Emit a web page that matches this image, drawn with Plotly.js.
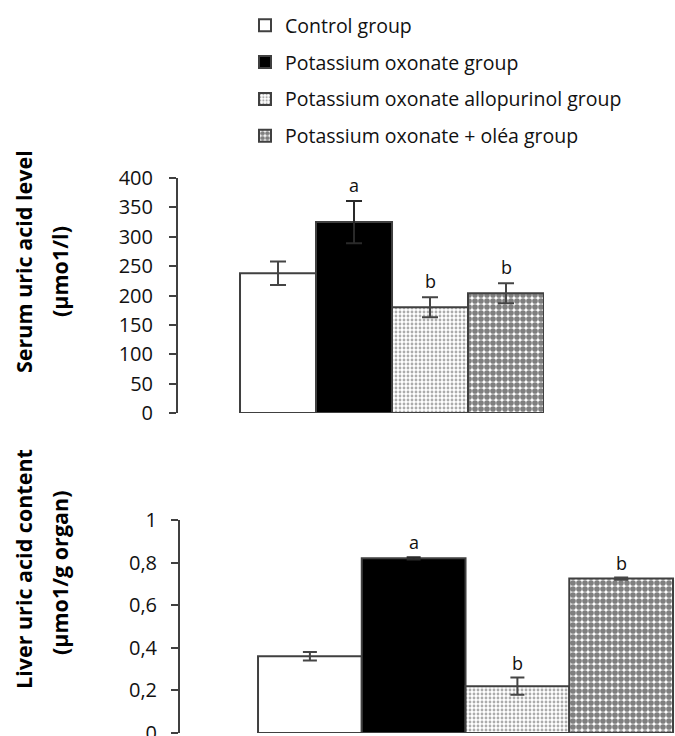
<!DOCTYPE html>
<html>
<head>
<meta charset="utf-8">
<script src="https://cdn.plot.ly/plotly-3.0.1.min.js"></script>
<style>html,body{margin:0;padding:0;background:#fff;}#chart{width:675px;height:736px;}</style>
</head>
<body>
<div id="chart"></div>
<script>
// ---- data ----
const groups = ["Control group", "Potassium oxonate group", "Potassium oxonate allopurinol group", "Potassium oxonate + oléa group"];
const serumValues = [238, 325, 180, 204];
const serumErrors = [20, 36, 17, 17];
const serumLetters = ["", "a", "b", "b"];
const liverValues = [0.36, 0.82, 0.22, 0.725];
const liverErrors = [0.02, 0.005, 0.04, 0.005];
const liverLetters = ["", "a", "b", "b"];
const serumTitle = ["Serum uric acid level", "(µmo1/l)"];
const liverTitle = ["Liver uric acid content", "(µmo1/g organ)"];

// ---- styles ----
const W = 675, H = 736;
const edge = "#404040";
const fills = [
  {color: "#ffffff"},
  {color: "#000000"},
  {color: "#ffffff", pattern: {shape: ".", size: 4, solidity: 0.4, fgcolor: "#5a5a5a", bgcolor: "#ffffff", fillmode: "overlay"}},
  {color: "#ffffff", pattern: {shape: ".", size: 6, solidity: 0.7, fgcolor: "#000000", bgcolor: "#ffffff", fillmode: "overlay"}}
];
const errColors = ["#454545", "#2a2a2a", "#454545", "#454545"];

const traces = [];
groups.forEach((g, i) => {
  traces.push({
    type: "bar", x: [i], y: [serumValues[i]], width: 1, name: g,
    legendgroup: "g" + i, xaxis: "x", yaxis: "y",
    marker: Object.assign({line: {color: edge, width: 2}}, fills[i]),
    error_y: {type: "data", array: [serumErrors[i]], visible: true, color: errColors[i], thickness: 2, width: 8},
    hoverinfo: "skip"
  });
});
groups.forEach((g, i) => {
  traces.push({
    type: "bar", x: [i], y: [liverValues[i]], width: 1, name: g, showlegend: false,
    legendgroup: "g" + i, xaxis: "x2", yaxis: "y2",
    marker: Object.assign({line: {color: edge, width: 2}}, fills[i]),
    error_y: {type: "data", array: [liverErrors[i]], visible: true, color: errColors[i], thickness: 2, width: 7},
    hoverinfo: "skip"
  });
});

const annotations = [];
const letterFont = {family: "Open Sans", size: 18, color: "#111"};
serumLetters.forEach((t, i) => {
  if (!t) return;
  annotations.push({xref: "x", yref: "y", x: i, y: serumValues[i] + serumErrors[i], text: t, showarrow: false,
    xanchor: "center", yanchor: "bottom", yshift: 2, font: letterFont});
});
liverLetters.forEach((t, i) => {
  if (!t) return;
  annotations.push({xref: "x2", yref: "y2", x: i, y: liverValues[i] + liverErrors[i], text: t, showarrow: false,
    xanchor: "center", yanchor: "bottom", yshift: 1, font: letterFont});
});
const titleFont = {family: "Open Sans", size: 21.5, color: "#000", weight: "bold"};
function vtitle(txt, xpx, ypx) {
  return {xref: "paper", yref: "paper", x: xpx / W, y: 1 - ypx / H, xanchor: "center", yanchor: "middle",
    text: "<b>" + txt + "</b>", textangle: -90, showarrow: false, font: titleFont};
}
annotations.push(vtitle(serumTitle[0], 23, 262));
annotations.push(vtitle(serumTitle[1], 59, 272));
annotations.push(vtitle(liverTitle[0], 23, 569));
annotations.push(vtitle(liverTitle[1], 59, 573));

const yaxisBase = {
  showgrid: false, zeroline: false, showline: true, linecolor: edge, linewidth: 2,
  ticks: "outside", ticklen: 7, tickwidth: 2, tickcolor: edge, ticklabeloverflow: "allow",
  tickfont: {family: "Open Sans", size: 20, color: "#111"}, fixedrange: true
};
const xaxisBase = {showgrid: false, zeroline: false, showline: false, ticks: "", showticklabels: false, fixedrange: true};

const layout = {
  width: W, height: H,
  margin: {l: 0, r: 0, t: 0, b: 0},
  paper_bgcolor: "#fff", plot_bgcolor: "rgba(0,0,0,0)",
  separators: ",.",
  bargap: 0,
  showlegend: true,
  legend: {x: 245 / W, y: 1 - 6 / H, xanchor: "left", yanchor: "top", tracegroupgap: 8.5,
    font: {family: "Open Sans", size: 19.5, color: "#111"}, bgcolor: "rgba(0,0,0,0)"},
  xaxis: Object.assign({}, xaxisBase, {domain: [178 / W, 544 / W], range: [-1.316, 3.5], anchor: "y"}),
  yaxis: Object.assign({}, yaxisBase, {domain: [1 - 413 / H, 1 - 178 / H], range: [0, 400], dtick: 50, anchor: "x", ticklabelstandoff: 12}),
  xaxis2: Object.assign({}, xaxisBase, {domain: [180 / W, 1], range: [-1.252, 3.519], anchor: "y2"}),
  yaxis2: Object.assign({}, yaxisBase, {domain: [1 - 733 / H, 1 - 520 / H], range: [0, 1], dtick: 0.2, anchor: "x2", ticklabelstandoff: 10}),
  annotations: annotations
};

Plotly.newPlot("chart", traces, layout, {displayModeBar: false, staticPlot: true});
</script>
</body>
</html>
